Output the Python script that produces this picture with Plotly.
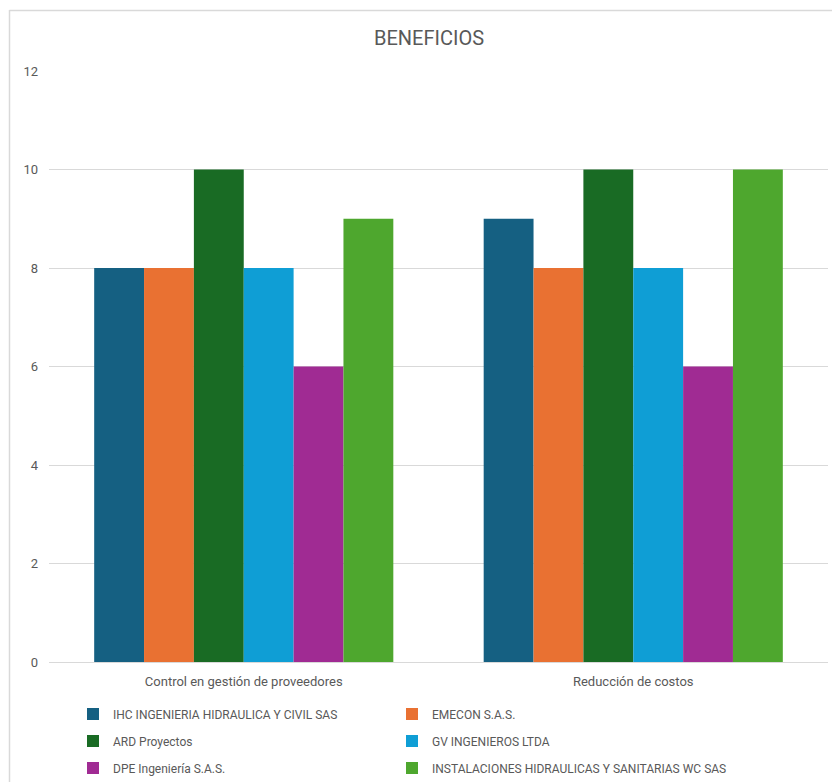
import plotly.graph_objects as go

categories = ["Control en gestión de proveedores", "Reducción de costos"]
series_names = [
    "IHC INGENIERIA HIDRAULICA Y CIVIL SAS",
    "EMECON S.A.S.",
    "ARD Proyectos",
    "GV INGENIEROS LTDA",
    "DPE Ingeniería S.A.S.",
    "INSTALACIONES HIDRAULICAS Y SANITARIAS WC SAS",
]
ihc = [8, 9]
emecon = [8, 8]
ard = [10, 10]
gv = [8, 8]
dpe = [6, 6]
instalaciones = [9, 10]
values = [ihc, emecon, ard, gv, dpe, instalaciones]
colors = ["#156082", "#E97132", "#196B24", "#0F9ED5", "#A02B93", "#4EA72E"]
legend_ids = ["legend", "legend2", "legend3", "legend4", "legend5", "legend6"]
y_ticks = [0, 2, 4, 6, 8, 10, 12]

FONT = "Roboto, sans-serif"
GRAY = "#595959"

fig = go.Figure()
for name, vals, col, lg in zip(series_names, values, colors, legend_ids):
    fig.add_trace(go.Bar(x=categories, y=vals, name=name, marker_color=col,
                         marker_line_width=0, legend=lg))

W, H = 832, 782
ml, mr, mt, mb = 49, 4, 71, 120
ph = H - mt - mb
pw = W - ml - mr

def py(pix):
    return (H - mb - pix) / ph

def px(pix):
    return (pix - ml) / pw

leg_common = dict(orientation="h", xanchor="left", yanchor="middle",
                  font=dict(family=FONT, size=12, color=GRAY),
                  bgcolor="rgba(0,0,0,0)", itemclick=False)
col_x = [px(73), px(392)]
row_y = [py(714), py(741), py(768)]

legends = {}
for i, lg in enumerate(legend_ids):
    legends[lg] = dict(x=col_x[i % 2], y=row_y[i // 2], **leg_common)

fig.update_layout(
    width=W, height=H,
    margin=dict(l=ml, r=mr, t=mt, b=mb, autoexpand=False),
    paper_bgcolor="white", plot_bgcolor="white",
    title=dict(text="BENEFICIOS", x=(429) / W, xanchor="center", y=1 - 38 / H, yanchor="middle",
               font=dict(family=FONT, size=20, color=GRAY)),
    barmode="group", bargap=0.232, bargroupgap=0,
    xaxis=dict(showgrid=False, showline=False, ticks="", ticklabelstandoff=10,
               tickfont=dict(family=FONT, size=13, color=GRAY)),
    yaxis=dict(range=[0, 12], tickvals=y_ticks, showgrid=True, gridcolor="#D9D9D9",
               gridwidth=1, zeroline=True, zerolinecolor="#D9D9D9", zerolinewidth=1,
               showline=False, ticks="", ticklabelstandoff=10,
               tickfont=dict(family=FONT, size=13, color=GRAY)),
    showlegend=True,
    **legends,
)

# chart-area border (left and top edges)
fig.add_shape(type="line", xref="paper", yref="paper", x0=px(9.5), x1=px(9.5),
              y0=py(10), y1=py(782), line=dict(color="#D9D9D9", width=1.5))
fig.add_shape(type="line", xref="paper", yref="paper", x0=px(9.5), x1=px(832),
              y0=py(10.5), y1=py(10.5), line=dict(color="#D9D9D9", width=1.5))

fig.write_html("out.html")
